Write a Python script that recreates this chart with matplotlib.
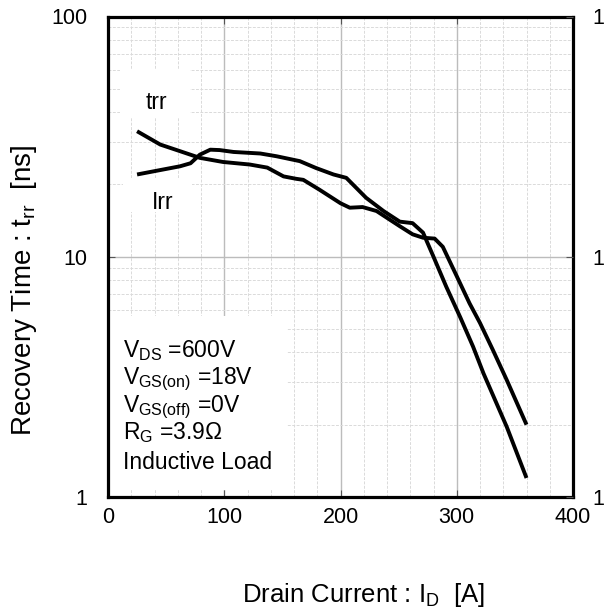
import matplotlib
matplotlib.use("Agg")
import matplotlib.pyplot as plt
from matplotlib.patches import Rectangle
from matplotlib.ticker import LogLocator, FixedLocator, NullFormatter, FixedFormatter

plt.rcParams['font.family'] = ['Liberation Sans', 'DejaVu Sans']
plt.rcParams['mathtext.fontset'] = 'custom'
plt.rcParams['mathtext.rm'] = 'Liberation Sans'
plt.rcParams['mathtext.it'] = 'Liberation Sans'

# ---- data ----
trr_current = [25, 45, 62, 79, 99, 122, 137, 151, 162, 168, 182, 200, 208, 219, 231,
               251, 262, 271, 281, 288, 300, 311, 320, 331, 343, 360]
trr_time = [33.3, 29.3, 27.5, 25.8, 24.8, 24.2, 23.5, 21.6, 21.1, 20.9, 19.0, 16.7, 16.0,
            16.1, 15.5, 13.4, 12.4, 12.0, 11.9, 11.0, 8.3, 6.4, 5.3, 4.1, 3.07, 2.0]
irr_current = [25, 62, 71, 79, 88, 96, 108, 131, 145, 165, 179, 194, 205, 222, 237,
               251, 262, 271, 280, 291, 303, 314, 323, 343, 360]
irr_value = [22.0, 23.8, 24.5, 26.6, 27.9, 27.8, 27.3, 26.9, 26.2, 25.0, 23.4, 22.0, 21.3,
             17.6, 15.5, 14.0, 13.8, 12.6, 10.0, 7.5, 5.6, 4.23, 3.27, 1.96, 1.2]
x_ticks = [0, 100, 200, 300, 400]
y_ticks = [1, 10, 100]
y_tick_labels = ["1", "10", "100"]
right_tick_labels = ["1", "1", "1"]

fig = plt.figure(figsize=(6.05, 6.11), dpi=100)
ax = fig.add_axes([108/605, (611-497)/611, 465/605, 480.5/611])
ax.set_yscale('log')
ax.set_xlim(0, 400)
ax.set_ylim(1, 100)

ax.plot(trr_current, trr_time, color='black', lw=2.8, solid_joinstyle='round',
        solid_capstyle='butt', zorder=3)
ax.plot(irr_current, irr_value, color='black', lw=2.8, solid_joinstyle='round',
        solid_capstyle='butt', zorder=3)

ax.xaxis.set_major_locator(FixedLocator(x_ticks))
ax.xaxis.set_minor_locator(FixedLocator([v for v in range(0, 401, 20) if v % 100]))
ax.yaxis.set_major_locator(FixedLocator(y_ticks))
ax.yaxis.set_major_formatter(FixedFormatter(y_tick_labels))
ax.yaxis.set_minor_locator(LogLocator(base=10, subs=range(2, 10)))
ax.yaxis.set_minor_formatter(NullFormatter())

ax.set_axisbelow(True)
ax.grid(which='major', color='#bcbcbc', lw=1.0, ls='-')
ax.grid(which='minor', color='#dadada', lw=0.7, ls=(0, (3, 1.5)))

ax.tick_params(which='major', direction='in', length=5, width=0.8, color='#555555',
               labelsize=15.5, pad=15, top=True, right=False)
ax.tick_params(axis='x', which='major', pad=7)
ax.tick_params(which='minor', length=0)
for s in ax.spines.values():
    s.set_linewidth(2.3)
    s.set_color('black')

ax2 = ax.twinx()
ax2.set_yscale('log')
ax2.set_ylim(1, 100)
ax2.yaxis.set_major_locator(FixedLocator(y_ticks))
ax2.yaxis.set_major_formatter(FixedFormatter(right_tick_labels))
ax2.yaxis.set_minor_locator(LogLocator(base=10, subs=range(2, 10)))
ax2.yaxis.set_minor_formatter(NullFormatter())
ax2.tick_params(which='major', direction='in', length=5, width=0.8, color='#555555',
                labelsize=15.5, pad=14)
ax2.tick_params(which='minor', length=0)
for s in ax2.spines.values():
    s.set_visible(False)

# white label backgrounds
for (x0, y0, w, h) in [(0.026, 0.791, 0.150, 0.098),
                       (0.032, 0.593, 0.149, 0.071),
                       (0.004, 0.015, 0.381, 0.362)]:
    ax.add_patch(Rectangle((x0, y0), w, h, transform=ax.transAxes,
                           facecolor='white', edgecolor='none', zorder=1.5))

ax.text(0.105, 0.822, "trr", transform=ax.transAxes, fontsize=16.5,
        ha='center', va='center', zorder=4)
ax.text(0.117, 0.612, "Irr", transform=ax.transAxes, fontsize=16.5,
        ha='center', va='center', zorder=4)

cond_lines = [r"V$_{\mathregular{DS}}$ =600V",
              r"V$_{\mathregular{GS(on)}}$ =18V",
              r"V$_{\mathregular{GS(off)}}$ =0V",
              r"R$_{\mathregular{G}}$ =3.9Ω",
              "Inductive Load"]
cond_y = [0.291, 0.235, 0.177, 0.121, 0.058]
for txt, yy in zip(cond_lines, cond_y):
    ax.text(0.032, yy, txt, transform=ax.transAxes, fontsize=16.5,
            ha='left', va='baseline', zorder=4)

fig.text(364/605, 1 - 602/611, r"Drain Current : I$_{\mathregular{D}}$  [A]",
         fontsize=18.5, ha='center', va='baseline')
fig.text(24/605, 1 - 290/611, r"Recovery Time : t$_{\mathregular{rr}}$  [ns]",
         fontsize=20, ha='center', va='center', rotation=90)

fig.savefig("out.png", dpi=100)
